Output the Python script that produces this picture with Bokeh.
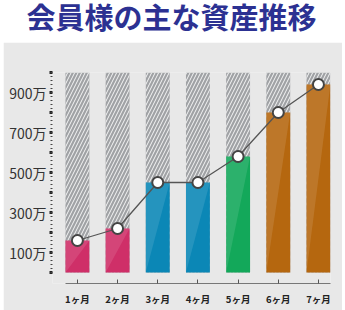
from bokeh.plotting import figure
from bokeh.layouts import column
from bokeh.models import FixedTicker, Range1d, Label
from bokeh.embed import file_html
from bokeh.resources import INLINE

# --- data (values in 万円) ---
title = "会員様の主な資産推移"
months = ["1ヶ月", "2ヶ月", "3ヶ月", "4ヶ月", "5ヶ月", "6ヶ月", "7ヶ月"]
assets = [160, 220, 450, 450, 580, 800, 940]
ceiling = [1000, 1000, 1000, 1000, 1000, 1000, 1000]
bar_colors = ["#cf2f68", "#cf2f68", "#0b87b6", "#0b87b6", "#13a85a", "#b5670f", "#b5670f"]
labelled_ticks = [100, 300, 500, 700, 900]
major_ticks = list(range(0, 1001, 100))
minor_ticks = list(range(0, 1001, 20))

FONT = "Noto Sans CJK JP"
PANEL = "#e8e8e8"
xs = list(range(1, len(months) + 1))
BAR_W = 0.595

# --- title strip (own frame, not aligned with the chart below; ranges in pixels) ---
head = figure(width=345, height=42, x_range=Range1d(0, 345), y_range=Range1d(0, 42),
              x_axis_type=None, y_axis_type=None, toolbar_location=None,
              output_backend="svg", min_border=0, outline_line_color=None,
              background_fill_color="white", border_fill_color="white")
head.frame_align = False
head.grid.visible = False
head.add_layout(Label(x=171, y=26.5, text=title, text_font=FONT, text_font_style="bold",
                      text_font_size="29px", text_color="#2c3192",
                      text_align="center", text_baseline="middle"))

# --- main chart ---
p = figure(width=339, height=268, x_range=Range1d(0.38, 7.3), y_range=Range1d(-55, 1000),
           toolbar_location=None, output_backend="svg",
           min_border_left=49, min_border_right=12, min_border_top=30, min_border_bottom=27,
           background_fill_color=PANEL, border_fill_color=PANEL, outline_line_color=None)
p.frame_align = False
p.margin = (0, 3, 0, 3)
p.grid.visible = False

# hatched full-height columns
p.vbar(x=xs, top=ceiling, bottom=0, width=BAR_W, fill_color="#a0a2a5",
       hatch_pattern="/", hatch_color="white", hatch_weight=0.9, hatch_scale=7,
       line_color=None)
# asset bars
p.vbar(x=xs, top=assets, bottom=0, width=BAR_W, fill_color=bar_colors, line_color=None)
# soft diagonal sheen on each bar (upper-left triangle)
half = BAR_W / 2
sheen_x = [[x - half, x + half, x - half] for x in xs]
sheen_y = [[a, a, 0] for a in assets]
p.patches(sheen_x, sheen_y, fill_color="white", fill_alpha=0.11, line_color=None)

# trend line with markers
p.line(xs, assets, line_color="#555555", line_width=1.3)
p.scatter(xs, assets, size=11, fill_color="white", line_color="#444444", line_width=2)

# y axis: dotted scale made of ticks only
yax = p.yaxis[0]
yax.ticker = FixedTicker(ticks=major_ticks, minor_ticks=minor_ticks)
yax.major_label_overrides = {t: (f"{t}万" if t in labelled_ticks else "") for t in major_ticks}
yax.axis_line_color = None
yax.major_tick_in = 0
yax.major_tick_out = 3
yax.major_tick_line_width = 3
yax.major_tick_line_color = "#222222"
yax.minor_tick_in = 0
yax.minor_tick_out = 2
yax.minor_tick_line_width = 1
yax.minor_tick_line_color = "#444444"
yax.major_label_standoff = 3
yax.major_label_text_font = FONT
yax.major_label_text_font_size = "14px"
yax.major_label_text_color = "#333333"

# x axis
xax = p.xaxis[0]
xax.ticker = FixedTicker(ticks=xs)
xax.major_label_overrides = {x: m for x, m in zip(xs, months)}
xax.bounds = (0.7, 7.3)
xax.axis_line_color = "#777777"
xax.axis_line_width = 1
xax.major_tick_in = 4
xax.major_tick_out = 0
xax.major_tick_line_color = "#555555"
xax.minor_tick_line_color = None
xax.major_label_standoff = 8
xax.major_label_text_font = FONT
xax.major_label_text_font_size = "9.5px"
xax.major_label_text_font_style = "bold"
xax.major_label_text_color = "#222222"

layout = column(head, p, spacing=0)
open("out.html", "w").write(file_html(layout, INLINE))
